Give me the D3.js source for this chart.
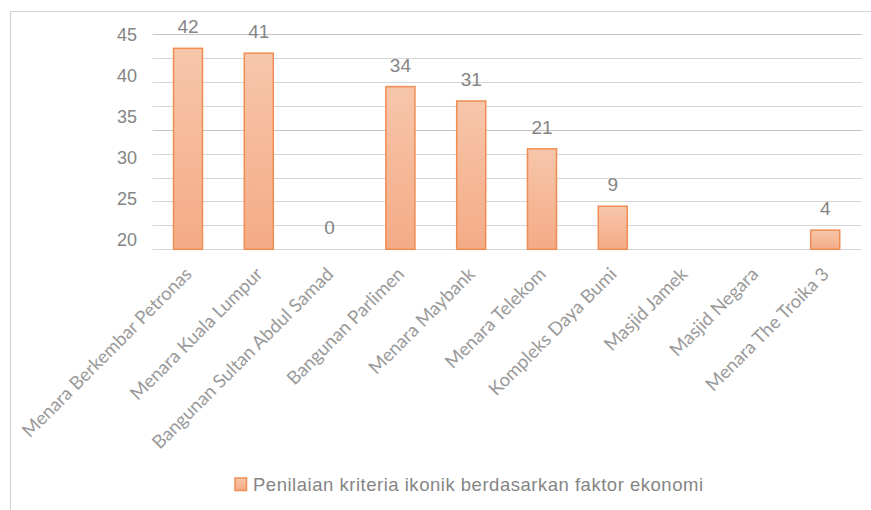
<!DOCTYPE html>
<html>
<head>
<meta charset="utf-8">
<script src="https://cdn.jsdelivr.net/npm/d3@7"></script>
<style>
  html, body { margin: 0; padding: 0; background: #fff; }
  svg { display: block; }
</style>
</head>
<body>
<div id="chart"></div>
<script>
// =============================================================================
// DATA
// =============================================================================

const categories = [
  'Menara Berkembar Petronas',
  'Menara Kuala Lumpur',
  'Bangunan Sultan Abdul Samad',
  'Bangunan Parlimen',
  'Menara Maybank',
  'Menara Telekom',
  'Kompleks Daya Bumi',
  'Masjid Jamek',
  'Masjid Negara',
  'Menara The Troika 3'
];

// null = no bar and no label drawn
const scores = [42, 41, 0, 34, 31, 21, 9, null, null, 4];

const gridValues = [0, 5, 10, 15, 20, 25, 30, 35, 40, 45];
const yTickLabels = [45, 40, 35, 30, 25, 20];

const seriesName = 'Penilaian kriteria ikonik berdasarkan faktor ekonomi';

// =============================================================================
// LAYOUT
// =============================================================================

const width = 871;
const height = 510;
const plot = { left: 152.6, right: 860.6, top: 34, bottom: 249.3 };

const textGrey = '#858585';
const barStroke = '#ef8d52';

const svg = d3.select('#chart')
  .append('svg')
  .attr('width', width)
  .attr('height', height);

svg.append('rect')
  .attr('width', width)
  .attr('height', height)
  .attr('fill', '#fff');

// bar gradient
const grad = svg.append('defs')
  .append('linearGradient')
  .attr('id', 'barGrad')
  .attr('x1', 0).attr('y1', 0).attr('x2', 0).attr('y2', 1);
grad.append('stop').attr('offset', '0%').attr('stop-color', '#f7c6aa');
grad.append('stop').attr('offset', '100%').attr('stop-color', '#f4ab86');

// chart frame (top + left edges only are visible)
svg.append('path')
  .attr('d', `M10.5,${height} L10.5,11.5 L${width},11.5`)
  .attr('fill', 'none')
  .attr('stroke', '#d4d4d4')
  .attr('stroke-width', 1.2);

// =============================================================================
// SCALES
// =============================================================================

const x = d3.scaleBand()
  .domain(categories)
  .range([plot.left, plot.right])
  .paddingInner(0.59)
  .paddingOuter(0.295);

const y = d3.scaleLinear()
  .domain([0, 45])
  .range([plot.bottom, plot.top]);

// the printed tick labels do not sit on the gridlines in the source image
const yLabel = d3.scaleLinear()
  .domain([20, 45])
  .range([239.3, 34.3]);

// =============================================================================
// GRID + AXES
// =============================================================================

svg.append('g')
  .selectAll('line')
  .data(gridValues)
  .join('line')
  .attr('x1', plot.left)
  .attr('x2', plot.right + 1)
  .attr('y1', d => Math.round(y(d)) + 0.5)
  .attr('y2', d => Math.round(y(d)) + 0.5)
  .attr('stroke', d => (d === 45 || d === 25) ? '#c4c4c4' : '#d6d6d6')
  .attr('stroke-width', 1.2);

const yAxis = svg.append('g')
  .attr('transform', 'translate(137,0)')
  .call(d3.axisLeft(yLabel).tickValues(yTickLabels).tickSize(0).tickPadding(0));
yAxis.select('.domain').remove();
yAxis.selectAll('text')
  .attr('fill', textGrey)
  .attr('font-family', '"Liberation Sans", Arial, sans-serif')
  .attr('font-size', 18);

svg.append('g')
  .selectAll('text')
  .data(categories)
  .join('text')
  .attr('transform', d => `translate(${x(d) + x.bandwidth() / 2 + 5},${plot.bottom + 26}) rotate(-45)`)
  .attr('text-anchor', 'end')
  .attr('fill', '#9a9a9a')
  .attr('font-family', 'Lato, "Open Sans", sans-serif')
  .attr('font-size', 18.5)
  .text(d => d);

// =============================================================================
// BARS
// =============================================================================

const barData = categories
  .map((c, i) => ({ name: c, value: scores[i] }))
  .filter(d => d.value !== null);

svg.append('g')
  .selectAll('rect')
  .data(barData.filter(d => d.value > 0))
  .join('rect')
  .attr('x', d => x(d.name))
  .attr('y', d => y(d.value))
  .attr('width', x.bandwidth())
  .attr('height', d => y(0) - y(d.value))
  .attr('fill', 'url(#barGrad)')
  .attr('stroke', barStroke)
  .attr('stroke-width', 1.5);

svg.append('g')
  .selectAll('text')
  .data(barData)
  .join('text')
  .attr('x', d => x(d.name) + x.bandwidth() / 2)
  .attr('y', d => y(d.value) - 15)
  .attr('text-anchor', 'middle')
  .attr('fill', textGrey)
  .attr('font-family', '"Liberation Sans", Arial, sans-serif')
  .attr('font-size', 19)
  .text(d => d.value);

// =============================================================================
// LEGEND
// =============================================================================

const legend = svg.append('g').attr('transform', 'translate(235,478)');
legend.append('rect')
  .attr('width', 11.5)
  .attr('height', 12.5)
  .attr('fill', 'url(#barGrad)')
  .attr('stroke', barStroke)
  .attr('stroke-width', 1.5);
legend.append('text')
  .attr('x', 18)
  .attr('y', 13)
  .attr('fill', textGrey)
  .attr('font-family', '"Liberation Sans", Arial, sans-serif')
  .attr('font-size', 18.5)
  .attr('textLength', 450)
  .attr('lengthAdjust', 'spacing')
  .text(seriesName);
</script>
</body>
</html>
